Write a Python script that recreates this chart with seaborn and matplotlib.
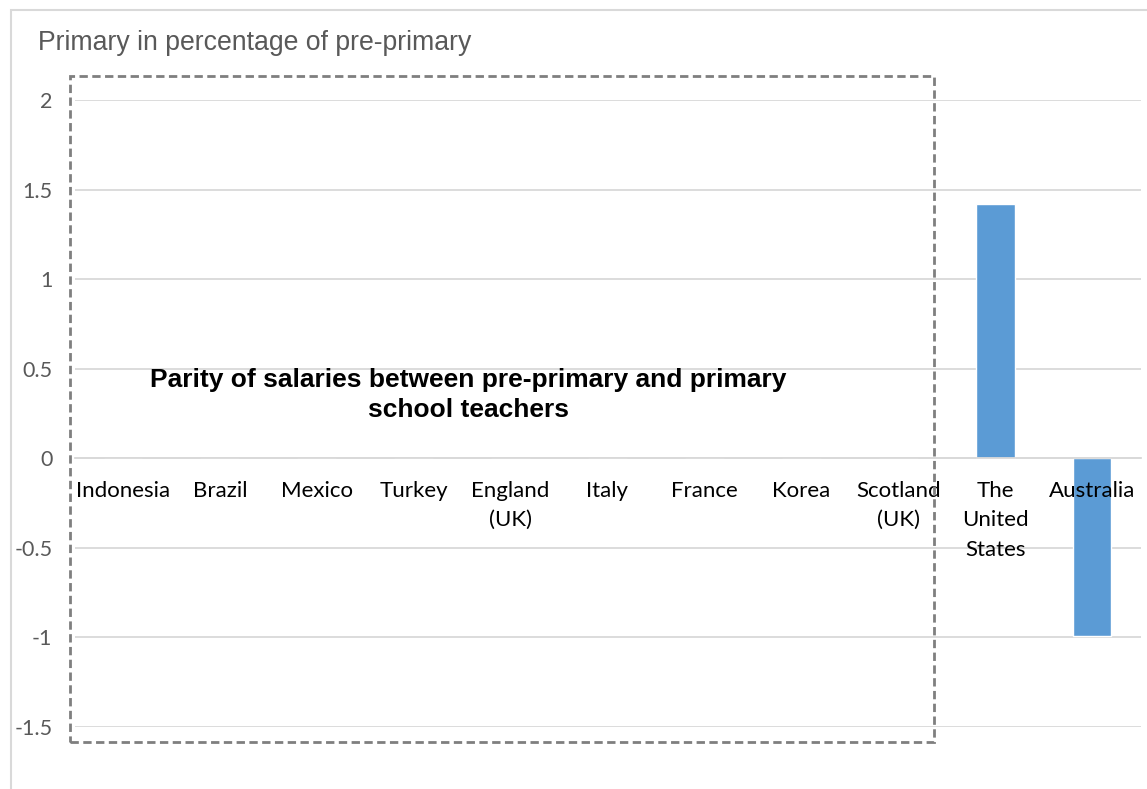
import matplotlib
matplotlib.use("Agg")
import matplotlib.pyplot as plt
from matplotlib.patches import Rectangle
import seaborn as sns
import pandas as pd

countries = ["Indonesia", "Brazil", "Mexico", "Turkey", "England\n(UK)", "Italy",
             "France", "Korea", "Scotland\n(UK)", "The\nUnited\nStates", "Australia"]
values = [0, 0, 0, 0, 0, 0, 0, 0, 0, 1.42, -0.99]
yticks = [-1.5, -1, -0.5, 0, 0.5, 1, 1.5, 2]
ytick_labels = ["-1.5", "-1", "-0.5", "0", "0.5", "1", "1.5", "2"]
title = "Primary in percentage of pre-primary"
note = "Parity of salaries between pre-primary and primary\nschool teachers"

sns.set_theme(style="white")
plt.rcParams["font.family"] = ["Lato", "DejaVu Sans"]

W, H = 1147, 789
fig = plt.figure(figsize=(W / 100, H / 100), dpi=100)

def fx(px):
    return px / W

def fy(py):
    return 1 - py / H

# plot area
ax = fig.add_axes([fx(74.5), fy(727), fx(1140.5) - fx(74.5), fy(100) - fy(727)])

df = pd.DataFrame({"country": countries, "value": values})
sns.barplot(data=df, x="country", y="value", ax=ax, color="#5B9BD5",
            saturation=1, width=0.4, order=countries, zorder=2)

ax.set_xlim(-0.5, len(countries) - 0.5)
ax.set_ylim(-1.5, 2)
ax.set_yticks(yticks)
ax.set_yticklabels(ytick_labels, fontsize=15.5, color="#595959")
ax.yaxis.grid(True, color="#D9D9D9", linewidth=1.3)
ax.set_axisbelow(True)
ax.xaxis.grid(False)
for s in ["top", "right", "left"]:
    ax.spines[s].set_visible(False)
ax.spines["bottom"].set_position(("data", 0))
ax.spines["bottom"].set_color("#D9D9D9")
ax.spines["bottom"].set_linewidth(1.3)
ax.tick_params(axis="x", length=0, labelbottom=False)
ax.tick_params(axis="y", length=0, pad=16)
ax.set_xlabel("")
ax.set_ylabel("")

# category labels sit just under the zero line, above the bars
for i, name in enumerate(countries):
    ax.annotate(name, xy=(i, 0), xytext=(0, -16), textcoords="offset points",
                ha="center", va="top", fontsize=16, color="black",
                linespacing=1.6, zorder=10, annotation_clip=False)

# chart frame
fig.patches.append(Rectangle((fx(11), fy(800)), fx(1200), fy(10) - fy(800),
                             transform=fig.transFigure, fill=False,
                             edgecolor="#D9D9D9", linewidth=1.5))

# dashed highlight box
fig.patches.append(Rectangle((fx(69.5), fy(741.5)), fx(933.5) - fx(69.5), fy(75.5) - fy(741.5),
                             transform=fig.transFigure, fill=False,
                             edgecolor="#7F7F7F", linewidth=2, linestyle=(0, (3, 1.6)),
                             zorder=5))

fig.text(fx(38), fy(43), title, fontsize=19.2, color="#595959",
         family=["Liberation Sans", "DejaVu Sans"], ha="left", va="center")
fig.text(fx(468), fy(395), note, fontsize=19, fontweight="bold", color="black",
         family=["Liberation Sans", "DejaVu Sans"], ha="center", va="center",
         linespacing=1.35)

fig.savefig("out.png", dpi=100)
